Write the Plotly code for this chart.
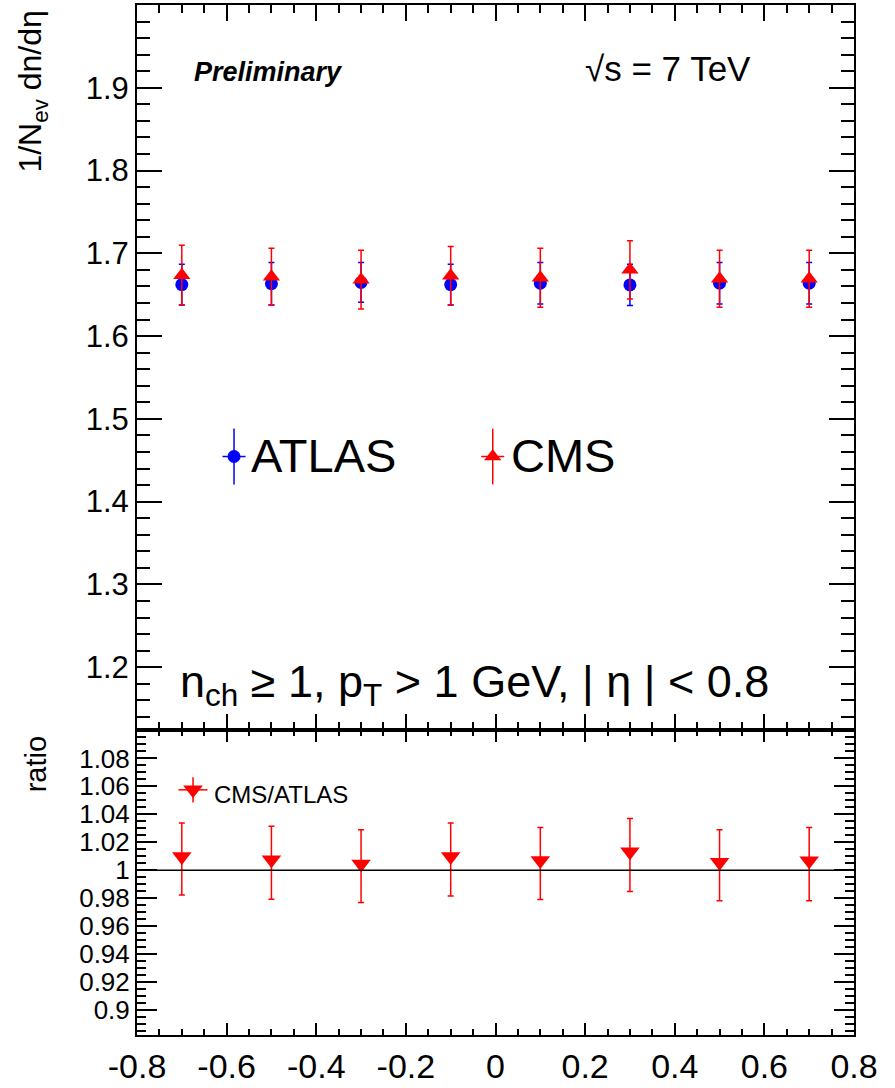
import plotly.graph_objects as go

# ---------------- data ----------------
eta = [-0.7, -0.5, -0.3, -0.1, 0.1, 0.3, 0.5, 0.7]

atlas_val = [1.6622, 1.6632, 1.6648, 1.6622, 1.6638, 1.6618, 1.6638, 1.6638]
atlas_err = [0.0246, 0.0256, 0.0240, 0.0246, 0.0250, 0.0250, 0.0250, 0.0250]

cms_val = [1.6736, 1.6718, 1.6682, 1.6728, 1.6704, 1.6800, 1.6692, 1.6692]
cms_err = [0.0360, 0.0343, 0.0355, 0.0353, 0.0357, 0.0353, 0.0345, 0.0345]

ratio_val = [1.0098, 1.0074, 1.0045, 1.0098, 1.0069, 1.0131, 1.0057, 1.0067]
ratio_err_up = [0.0240, 0.0240, 0.0245, 0.0240, 0.0236, 0.0238, 0.0233, 0.0238]
ratio_err_dn = [0.0276, 0.0283, 0.0276, 0.0283, 0.0279, 0.0283, 0.0276, 0.0286]

x_tickvals = [-0.8, -0.6, -0.4, -0.2, 0.0, 0.2, 0.4, 0.6, 0.8]
x_ticktext = ["-0.8", "-0.6", "-0.4", "-0.2", "0", "0.2", "0.4", "0.6", "0.8"]

top_tickvals = [1.2, 1.3, 1.4, 1.5, 1.6, 1.7, 1.8, 1.9]
top_ticktext = ["1.2", "1.3", "1.4", "1.5", "1.6", "1.7", "1.8", "1.9"]

bot_tickvals = [0.90, 0.92, 0.94, 0.96, 0.98, 1.00, 1.02, 1.04, 1.06, 1.08]
bot_ticktext = ["0.9", "0.92", "0.94", "0.96", "0.98", "1", "1.02", "1.04", "1.06", "1.08"]

# ---------------- style / layout constants ----------------
FONT = "Liberation Sans, Arial, sans-serif"
BLUE = "#0000ff"
RED = "#ff0000"
W, H = 895, 1088
ML, MR, MT, MB = 137, 41, 3, 50
PW, PH = W - ML - MR, H - MT - MB
SPLIT = 306 / PH  # bottom panel fraction


def px(xp):
    return (xp - ML) / PW


def py(yp):
    return (H - MB - yp) / PH


fig = go.Figure()

# ATLAS
fig.add_trace(go.Scatter(
    x=eta, y=atlas_val, mode="markers", xaxis="x", yaxis="y",
    marker=dict(symbol="circle", size=13, color=BLUE),
    error_y=dict(type="data", array=atlas_err, color=BLUE, thickness=1.5, width=3),
    showlegend=False))
# CMS
fig.add_trace(go.Scatter(
    x=eta, y=cms_val, mode="markers", xaxis="x", yaxis="y",
    marker=dict(symbol="triangle-up", size=15, color=RED),
    error_y=dict(type="data", array=cms_err, color=RED, thickness=1.5, width=3),
    showlegend=False))
# Ratio
fig.add_trace(go.Scatter(
    x=eta, y=ratio_val, mode="markers", xaxis="x2", yaxis="y2",
    marker=dict(symbol="triangle-down", size=17, color=RED),
    error_y=dict(type="data", symmetric=False, array=ratio_err_up,
                 arrayminus=ratio_err_dn, color=RED, thickness=1.5, width=3),
    showlegend=False))

# ---- hand-drawn legends (ROOT style with error crosses) ----
leg_y_top = 1.4545
fig.add_trace(go.Scatter(
    x=[-0.5835], y=[leg_y_top], mode="markers", xaxis="x", yaxis="y",
    marker=dict(symbol="circle", size=13, color=BLUE),
    error_y=dict(type="constant", value=0.0337, color=BLUE, thickness=1.5, width=0),
    error_x=dict(type="constant", value=0.0257, color=BLUE, thickness=1.5, width=0),
    showlegend=False, hoverinfo="skip"))
fig.add_trace(go.Scatter(
    x=[-0.0062], y=[leg_y_top], mode="markers", xaxis="x", yaxis="y",
    marker=dict(symbol="triangle-up", size=15, color=RED),
    error_y=dict(type="constant", value=0.0337, color=RED, thickness=1.5, width=0),
    error_x=dict(type="constant", value=0.0257, color=RED, thickness=1.5, width=0),
    showlegend=False, hoverinfo="skip"))
fig.add_trace(go.Scatter(
    x=[-0.675], y=[1.0575], mode="markers", xaxis="x2", yaxis="y2",
    marker=dict(symbol="triangle-down", size=17, color=RED),
    error_y=dict(type="constant", value=0.009, color=RED, thickness=1.5, width=0),
    error_x=dict(type="constant", value=0.0324, color=RED, thickness=1.5, width=0),
    showlegend=False, hoverinfo="skip"))

axis_common = dict(showline=True, linecolor="black", linewidth=2, mirror="allticks",
                   ticks="inside", tickcolor="black", tickwidth=1.5,
                   showgrid=False, zeroline=False)

fig.update_layout(
    width=W, height=H,
    margin=dict(l=ML, r=MR, t=MT, b=MB, pad=0),
    paper_bgcolor="white", plot_bgcolor="white",
    font=dict(family=FONT, color="black"),
    showlegend=False,
    xaxis=dict(domain=[0, 1], anchor="y", range=[-0.8, 0.8], showticklabels=False,
               tickmode="array", tickvals=x_tickvals, ticklen=16,
               minor=dict(ticks="inside", tickmode="linear", tick0=-0.8, dtick=0.05,
                          ticklen=8, tickcolor="black", tickwidth=1.5),
               **axis_common),
    xaxis2=dict(domain=[0, 1], anchor="y2", range=[-0.8, 0.8], matches="x",
                tickmode="array", tickvals=x_tickvals, ticktext=x_ticktext,
                tickfont=dict(size=34, family=FONT, color="black"), ticklen=12,
                minor=dict(ticks="inside", tickmode="linear", tick0=-0.8, dtick=0.05,
                           ticklen=6, tickcolor="black", tickwidth=1.5),
                **axis_common),
    yaxis=dict(domain=[SPLIT, 1], anchor="x", range=[1.1235, 2.0],
               tickmode="array", tickvals=top_tickvals, ticktext=top_ticktext,
               tickfont=dict(size=31, family=FONT, color="black"), ticklen=25,
               minor=dict(ticks="inside", tickmode="linear", tick0=1.2, dtick=0.02,
                          ticklen=13, tickcolor="black", tickwidth=1.5),
               **axis_common),
    yaxis2=dict(domain=[0, SPLIT], anchor="x2", range=[0.882, 1.10],
                tickmode="array", tickvals=bot_tickvals, ticktext=bot_ticktext,
                tickfont=dict(size=26, family=FONT, color="black"), ticklen=20,
                minor=dict(ticks="inside", tickmode="linear", tick0=0.9, dtick=0.005,
                           ticklen=9, tickcolor="black", tickwidth=1.5),
                **axis_common),
)

# reference line at ratio = 1
fig.add_shape(type="line", xref="x2 domain", yref="y2", x0=0, x1=1, y0=1, y1=1,
              line=dict(color="black", width=1.5))

ann = []
ann.append(dict(text="<b><i>Preliminary</i></b>", x=px(192), y=py(70),
                xanchor="left", yanchor="middle", font=dict(size=27)))
ann.append(dict(text="√s = 7 TeV", x=px(583), y=py(67),
                xanchor="left", yanchor="middle", font=dict(size=35)))
ann.append(dict(text="ATLAS", x=px(249), y=py(456),
                xanchor="left", yanchor="middle", font=dict(size=47)))
ann.append(dict(text="CMS", x=px(509), y=py(456),
                xanchor="left", yanchor="middle", font=dict(size=47)))
ann.append(dict(text="n<sub>ch</sub> ≥ 1, p<sub>T</sub> &gt; 1 GeV, | η | &lt; 0.8",
                x=px(178), y=py(686), xanchor="left", yanchor="middle",
                font=dict(size=45)))
ann.append(dict(text="CMS/ATLAS", x=px(212), y=py(796),
                xanchor="left", yanchor="middle", font=dict(size=24)))
ann.append(dict(text="1/N<sub>ev</sub> dn/dη", x=px(33), y=py(90), textangle=-90,
                xanchor="center", yanchor="middle", font=dict(size=32)))
ann.append(dict(text="ratio", x=px(36), y=py(766), textangle=-90,
                xanchor="center", yanchor="middle", font=dict(size=29)))
for a in ann:
    a.update(xref="paper", yref="paper", showarrow=False)
    a["font"].update(family=FONT, color="black")
fig.update_layout(annotations=ann)

fig.write_html("out.html")
